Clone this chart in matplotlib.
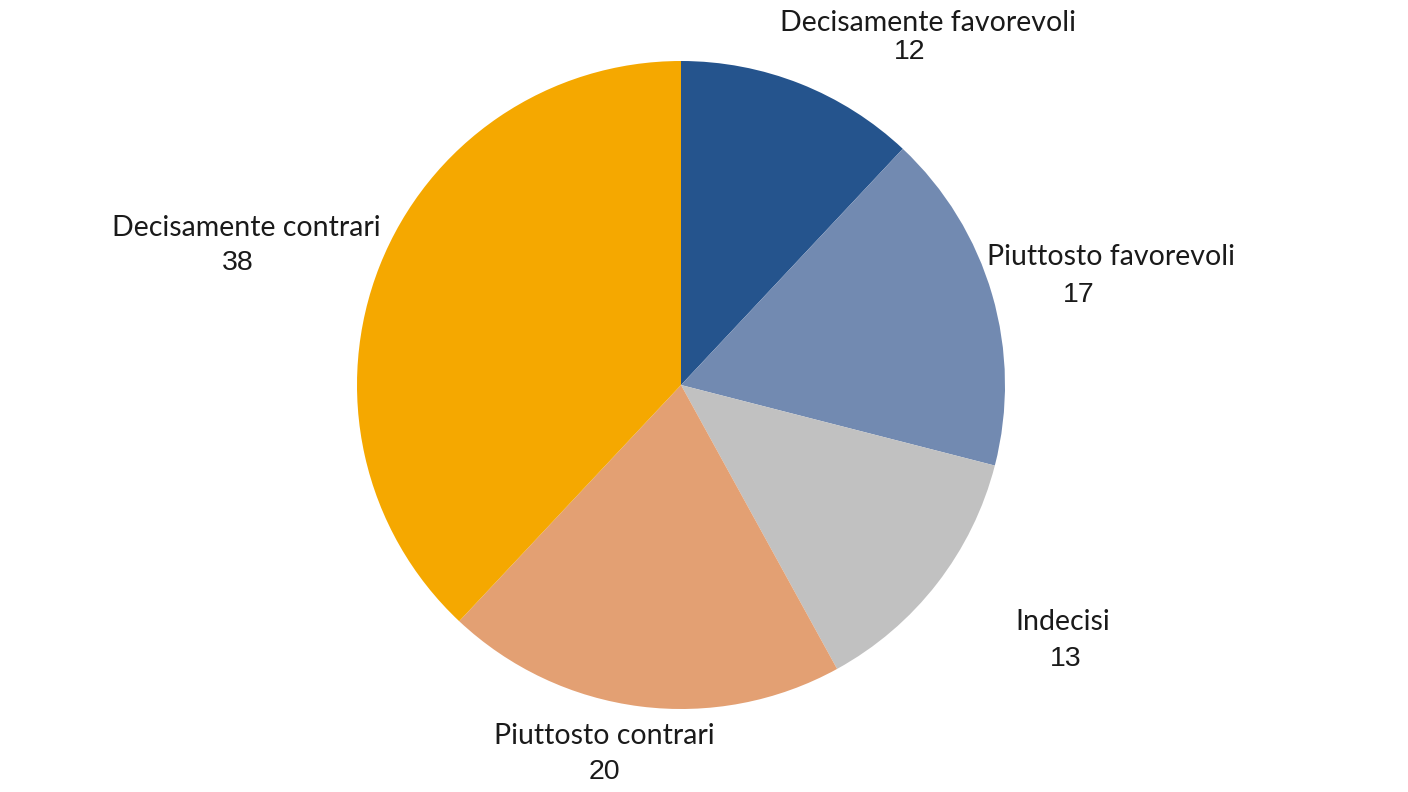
import matplotlib.pyplot as plt

# dati
categorie = ['Decisamente favorevoli', 'Piuttosto favorevoli', 'Indecisi',
             'Piuttosto contrari', 'Decisamente contrari']
valori = [12, 17, 13, 20, 38]
colori = ['#25548D', '#728AB1', '#C1C1C1', '#E3A073', '#F5A800']

# posizione etichette (pixel, origine in alto a sinistra)
pos_nome = [(928, 23), (1111, 257), (1063, 622), (604, 736), (246, 228)]
pos_val = [(910, 52), (1079, 295), (1066, 659), (604, 772), (238, 263)]

W, H = 1408, 792
fig = plt.figure(figsize=(W / 100, H / 100), dpi=100)
ax = fig.add_axes([0, 0, 1, 1])

ax.pie(valori, colors=colori, startangle=90, counterclock=False,
       center=(681, H - 385), radius=324, frame=True,
       wedgeprops=dict(linewidth=0))
ax.set_xlim(0, W)
ax.set_ylim(0, H)
ax.set_aspect('equal')
ax.axis('off')

for nome, v, pn, pv in zip(categorie, valori, pos_nome, pos_val):
    ax.text(pn[0], H - pn[1], nome, ha='center', va='center',
            fontsize=20.5, family='Lato', color='#1a1a1a')
    ax.text(pv[0], H - pv[1], str(v), ha='center', va='center',
            fontsize=20.5, family='Liberation Sans', color='#1a1a1a')

fig.savefig('out.png', dpi=100)
